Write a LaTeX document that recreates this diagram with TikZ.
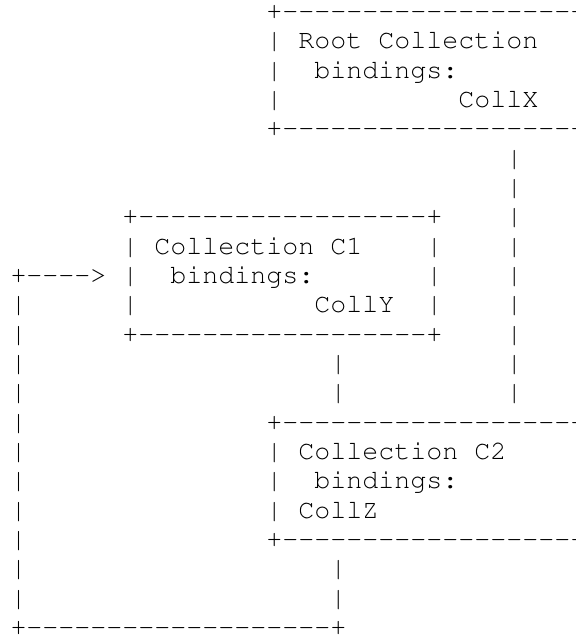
\documentclass[tikz,border=0pt]{standalone}
\usepackage[T1]{fontenc}
\usepackage{courier}
\newlength\colw
\setlength\colw{16pt}
\newcommand\gap[1]{\hspace*{#1\colw}}
\newcommand\dashes[1]{\foreach\k in {1,...,#1}{-}}
\tikzset{asc/.style={anchor=base west, inner sep=0pt, outer sep=0pt, yshift=-6.5pt,
  font=\ttfamily\fontsize{26.66pt}{29.33pt}\selectfont}}
\begin{document}
\begin{tikzpicture}[x=16pt, y=-29.33pt]
    \useasboundingbox (-18.5pt,13pt) rectangle (557.5pt,-622pt);
    \clip (-18.5pt,13pt) rectangle (557.5pt,-622pt);
    % root collection
    \node[asc] (RootTop) at (-0.5,0) {\gap{16}+\dashes{20}};
    \node[asc] (RootName) at (-0.5,1) {\gap{16}|\gap{1}Root Collection};
    \node[asc] (RootBind) at (-0.5,2) {\gap{16}|\gap{2}bindings:};
    \node[asc] (RootItem) at (-0.5,3) {\gap{16}|\gap{11}CollX};
    \node[asc] (RootBottom) at (-0.5,4) {\gap{16}+\dashes{20}};
    \node[asc] (LinkA) at (-0.5,5) {\gap{31}|};
    \node[asc] (LinkB) at (-0.5,6) {\gap{31}|};
    % collection C1
    \node[asc] (OneTop) at (-0.5,7) {\gap{7}+\dashes{18}+\gap{4}|};
    \node[asc] (OneName) at (-0.5,8) {\gap{7}|\gap{1}Collection C1\gap{4}|\gap{4}|};
    \node[asc] (OneBind) at (-0.5,9) {+\dashes{4}>\gap{1}|\gap{2}bindings:\gap{7}|\gap{4}|};
    \node[asc] (OneItem) at (-0.5,10) {|\gap{6}|\gap{11}CollY\gap{2}|\gap{4}|};
    \node[asc] (OneBottom) at (-0.5,11) {|\gap{6}+\dashes{18}+\gap{4}|};
    \node[asc] (LinkC) at (-0.5,12) {|\gap{19}|\gap{10}|};
    \node[asc] (LinkD) at (-0.5,13) {|\gap{19}|\gap{10}|};
    % collection C2
    \node[asc] (TwoTop) at (-0.5,14) {|\gap{15}+\dashes{20}};
    \node[asc] (TwoName) at (-0.5,15) {|\gap{15}|\gap{1}Collection C2};
    \node[asc] (TwoBind) at (-0.5,16) {|\gap{15}|\gap{2}bindings:};
    \node[asc] (TwoItem) at (-0.5,17) {|\gap{15}|\gap{1}CollZ};
    \node[asc] (TwoBottom) at (-0.5,18) {|\gap{15}+\dashes{20}};
    \node[asc] (LinkE) at (-0.5,19) {|\gap{19}|};
    \node[asc] (LinkF) at (-0.5,20) {|\gap{19}|};
    \node[asc] (LoopBack) at (-0.5,21) {+\dashes{19}+};
\end{tikzpicture}
\end{document}
